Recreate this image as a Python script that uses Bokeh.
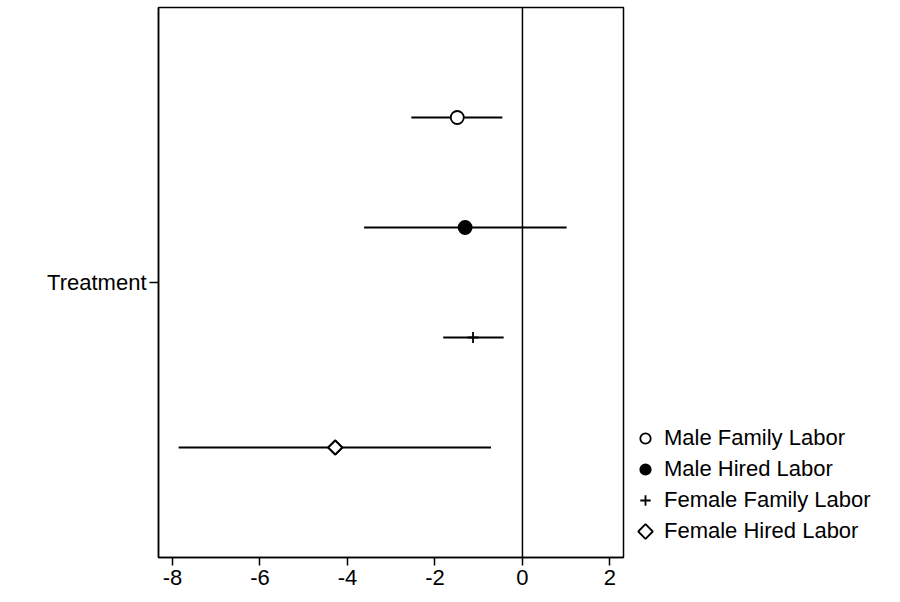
import math
from bokeh.plotting import figure
from bokeh.models import Range1d, FixedTicker, Legend, LegendItem, Span, CustomJS
from bokeh.embed import file_html
from bokeh.resources import INLINE

# Data
series = ["Male Family Labor", "Male Hired Labor", "Female Family Labor", "Female Hired Labor"]
coef = [-1.49, -1.31, -1.13, -4.28]
ci_low = [-2.54, -3.62, -1.81, -7.86]
ci_high = [-0.46, 1.01, -0.43, -0.72]
offset = [1.5, 0.5, -0.5, -1.5]   # vertical offsets around the "Treatment" row
x_ticks = [-8, -6, -4, -2, 0, 2]
row_label = "Treatment"

FONT = "Liberation Sans"

p = figure(frame_width=465, frame_height=550, output_backend="svg", toolbar_location=None,
           x_range=Range1d(-8.32, 2.31), y_range=Range1d(-2.5, 2.5),
           min_border_left=158, min_border_right=0, min_border_top=7, min_border_bottom=45)
p.background_fill_color = "white"
p.border_fill_color = "white"
p.outline_line_color = "black"
p.outline_line_width = 1.5
p.xgrid.visible = False
p.ygrid.visible = False

# zero line
p.add_layout(Span(location=0, dimension="height", line_color="black", line_width=1.5))

# CI bars
p.segment(x0=ci_low, y0=offset, x1=ci_high, y1=offset, line_color="black", line_width=2)

DIAMOND_JS = """
var A = Array.prototype.slice.call(arguments);
var ctx = null, i = 0, r = 5, visuals = null;
try {
  for (var k = 0; k < A.length; k++) {
    var a = A[k];
    if (a && typeof a === "object" && a.ctx && typeof a.ctx.moveTo === "function") {
      ctx = a.ctx; i = a.i; r = a.r; visuals = a.visuals; break;
    }
  }
  if (ctx == null) {
    for (var k = 0; k < A.length; k++) {
      var a = A[k];
      if (a && typeof a.moveTo === "function") {
        ctx = a; i = A[k+1]; r = A[k+2]; visuals = A[k+3]; break;
      }
    }
  }
  if (ctx != null) {
    var q = r * 1.4;
    ctx.moveTo(0, -q); ctx.lineTo(q, 0); ctx.lineTo(0, q); ctx.lineTo(-q, 0); ctx.closePath();
    try {
      visuals.fill.apply(ctx, i);
      visuals.line.apply(ctx, i);
    } catch (e2) {
      ctx.fillStyle = "white"; ctx.fill();
      ctx.strokeStyle = "black"; ctx.lineWidth = 1.8; ctx.stroke();
    }
  }
} catch (e) {}
"""

markers = ["circle", "circle", "cross", "square"]
fills = ["white", "black", None, "white"]
sizes = [13, 13, 11, 10]
angles = [0, 0, 0, math.pi / 4]
items = []
for i in range(4):
    kw = dict(x=[coef[i]], y=[offset[i]], marker=markers[i], size=sizes[i],
              angle=angles[i], line_color="black", line_width=1.8)
    if fills[i] is None:
        kw["fill_alpha"] = 0
    else:
        kw["fill_color"] = fills[i]
    r = p.scatter(**kw)
    if i == 3:
        # equal-sided diamond marker (also used for the legend)
        dr = p.scatter(x=[coef[i]], y=[offset[i]], marker="@rdiamond", size=10,
                       defs={"@rdiamond": CustomJS(code=DIAMOND_JS)},
                       line_color="black", fill_color="white", line_width=1.8)
        items.append(LegendItem(label=series[i], renderers=[dr]))
    else:
        items.append(LegendItem(label=series[i], renderers=[r]))

# axes
p.xaxis.ticker = FixedTicker(ticks=x_ticks)
p.xaxis.major_label_overrides = {t: str(t) for t in x_ticks}
p.xaxis.minor_tick_line_color = None
p.xaxis.major_tick_out = 8
p.xaxis.major_tick_in = 0
p.xaxis.major_tick_line_width = 1.5
p.xaxis.axis_line_width = 1.5
p.xaxis.major_label_text_font = FONT
p.xaxis.major_label_text_font_size = "22px"
p.xaxis.major_label_text_color = "black"
p.xaxis.major_label_standoff = 4

p.yaxis.ticker = FixedTicker(ticks=[0])
p.yaxis.major_label_overrides = {0: row_label}
p.yaxis.minor_tick_line_color = None
p.yaxis.major_tick_out = 9
p.yaxis.major_tick_in = 0
p.yaxis.major_tick_line_width = 1.5
p.yaxis.axis_line_width = 1.5
p.yaxis.major_label_text_font = FONT
p.yaxis.major_label_text_font_size = "22px"
p.yaxis.major_label_text_color = "black"
p.yaxis.major_label_standoff = 3

legend = Legend(items=items, location=(9, 13), orientation="vertical",
                label_text_font=FONT, label_text_font_size="22px", label_text_color="black",
                glyph_width=26, glyph_height=26, label_height=26, spacing=5,
                label_standoff=6, padding=0, margin=0,
                border_line_color=None, background_fill_alpha=0)
p.add_layout(legend, "right")

open("out.html", "w").write(file_html(p, INLINE))
